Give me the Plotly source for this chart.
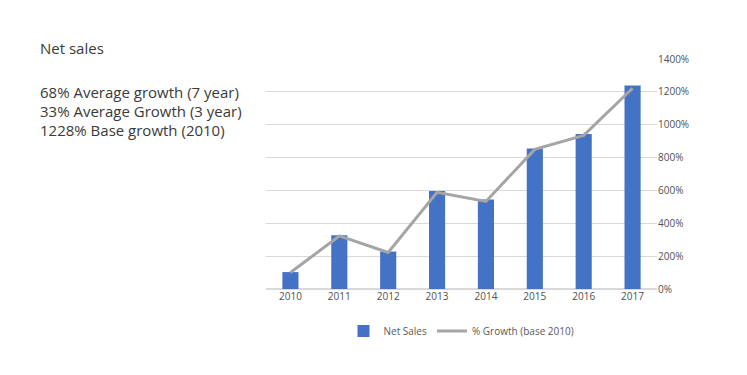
import plotly.graph_objects as go

years = ["2010", "2011", "2012", "2013", "2014", "2015", "2016", "2017"]
net_sales_index = [103, 327, 228, 596, 545, 855, 943, 1238]
growth_pct = [100, 323, 222, 588, 533, 850, 935, 1222]
y_ticks = [0, 200, 400, 600, 800, 1000, 1200, 1400]
y_tick_labels = [f"{v}%" for v in y_ticks]

side_title = "Net sales"
side_lines = ["68% Average growth (7 year)", "33% Average Growth (3 year)", "1228% Base growth (2010)"]

fig = go.Figure()
fig.add_trace(go.Bar(x=years, y=net_sales_index, name="Net Sales",
                     marker=dict(color="#4472C4", line=dict(width=0)), width=0.33))
fig.add_trace(go.Scatter(x=years, y=growth_pct, name="% Growth (base 2010)", mode="lines",
                         line=dict(color="#A5A5A5", width=3)))

W, H = 747, 375
L, R, T, B = 266, 90, 59, 86
pw, ph = W - L - R, H - T - B

def px(x):
    return (x - L) / pw

def py(y):
    return (H - B - y) / ph

txt_font = dict(family="Open Sans", size=15, color="#3a3a3a")
anns = [dict(text=side_title, x=px(38), y=py(48), xref="paper", yref="paper",
             xanchor="left", yanchor="middle", showarrow=False, font=txt_font)]
for i, t in enumerate(side_lines):
    anns.append(dict(text=t, x=px(38), y=py(92 + 19 * i), xref="paper", yref="paper",
                     xanchor="left", yanchor="middle", showarrow=False, font=txt_font))

fig.update_layout(
    width=W, height=H,
    margin=dict(l=L, r=R, t=T, b=B),
    paper_bgcolor="white", plot_bgcolor="white",
    font=dict(family="Open Sans", size=10, color="#595959"),
    showlegend=True,
    legend=dict(orientation="h", x=0.5, xanchor="center", y=py(331), yanchor="middle",
                font=dict(size=10, color="#595959"), itemwidth=30),
    xaxis=dict(showgrid=False, showline=False, ticks="", tickfont=dict(size=10, color="#505050")),
    yaxis=dict(side="right", range=[0, 1400], tickvals=y_ticks, ticktext=y_tick_labels,
               showgrid=True, gridcolor="#d9d9d9", gridwidth=1, zeroline=True,
               zerolinecolor="#d9d9d9", showline=False, ticks="", tickfont=dict(size=10, color="#505050")),
    annotations=anns,
)

fig.write_html("out.html", config={"displayModeBar": False},
               post_script="document.body.style.margin='0';")
